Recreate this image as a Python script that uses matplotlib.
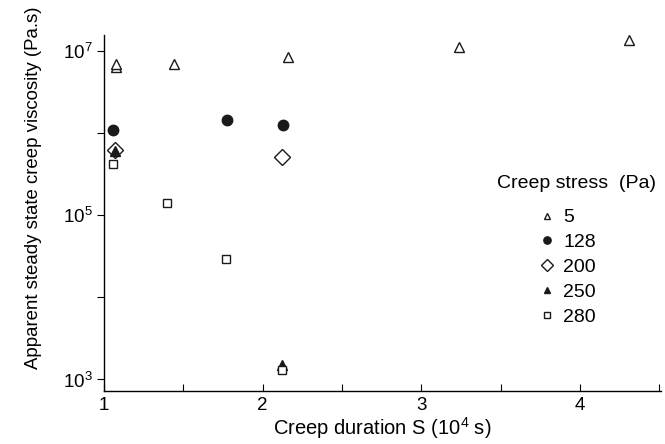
import matplotlib.pyplot as plt
import numpy as np

plt.rcParams['font.family'] = ['Liberation Sans', 'DejaVu Sans']
plt.rcParams['mathtext.fontset'] = 'custom'
plt.rcParams['mathtext.rm'] = 'Liberation Sans'

# creep duration (10^4 s) and log10 of viscosity (Pa.s)
x_5 = [1.08, 1.08, 1.44, 2.16, 3.24, 4.31]
y_5 = [6.80, 6.84, 6.84, 6.92, 7.05, 7.13]
x_128 = [1.06, 1.775, 2.13]
y_128 = [6.04, 6.16, 6.10]
x_200 = [1.07, 2.12]
y_200 = [5.79, 5.70]
x_250 = [1.07, 2.12]
y_250 = [5.78, 3.17]
x_280 = [1.06, 1.40, 1.77, 2.12]
y_280 = [5.62, 5.15, 4.46, 3.11]

stress_labels = ['5', '128', '200', '250', '280']

fig = plt.figure(figsize=(6.65, 4.44), dpi=100)
ax = fig.add_axes([0.156, 0.119, 0.838, 0.802])

ink = '#1a1a1a'
ax.plot(x_5, 10 ** np.array(y_5), '^', ms=7, mfc='white', mec=ink, mew=1.0, ls='none', label=stress_labels[0])
ax.plot(x_128, 10 ** np.array(y_128), 'o', ms=7.5, mfc=ink, mec=ink, ls='none', label=stress_labels[1])
ax.plot(x_200, 10 ** np.array(y_200), 'D', ms=8.5, mfc='white', mec=ink, mew=1.0, ls='none', label=stress_labels[2])
ax.plot(x_250, 10 ** np.array(y_250), '^', ms=6.5, mfc=ink, mec=ink, ls='none', label=stress_labels[3])
ax.plot(x_280, 10 ** np.array(y_280), 's', ms=6, mfc='white', mec=ink, mew=1.0, ls='none', label=stress_labels[4])

ax.set_yscale('log')
ax.set_xlim(1, 4.51)
ax.set_ylim(10 ** 2.854, 10 ** 7.19)

ax.spines['top'].set_visible(False)
ax.spines['right'].set_visible(False)
ax.spines['left'].set_linewidth(1.0)
ax.spines['bottom'].set_linewidth(1.0)

ax.set_xticks([1, 1.5, 2, 2.5, 3, 3.5, 4, 4.5])
ax.set_xticklabels(['1', '', '2', '', '3', '', '4', ''])
ax.tick_params(axis='x', direction='in', length=5, labelsize=13.5, pad=4)

ax.set_yticks([1e3, 1e4, 1e5, 1e6, 1e7])
ax.set_yticklabels(['$10^3$', '', '$10^5$', '', '$10^7$'])
ax.yaxis.set_minor_locator(plt.NullLocator())
ax.tick_params(axis='y', direction='out', length=5, labelsize=13.5, pad=3)

ax.set_xlabel('Creep duration S (10$^4$ s)', fontsize=14.5, labelpad=1)
ax.set_ylabel('Apparent steady state creep viscosity (Pa.s)', fontsize=13.4)
ax.yaxis.set_label_coords(-0.11, 0.57)

fig.text(497 / 665, 1 - 183 / 444, 'Creep stress  (Pa)', fontsize=14, ha='left', va='center')
leg = ax.legend(frameon=False, fontsize=14, markerscale=0.7, handlelength=0.8,
                handletextpad=0.45, labelspacing=0.37, borderpad=0.0,
                loc='upper left', bbox_to_anchor=(529 / 665, 1 - 199 / 444),
                bbox_transform=fig.transFigure)

fig.savefig('out.png', dpi=100)
